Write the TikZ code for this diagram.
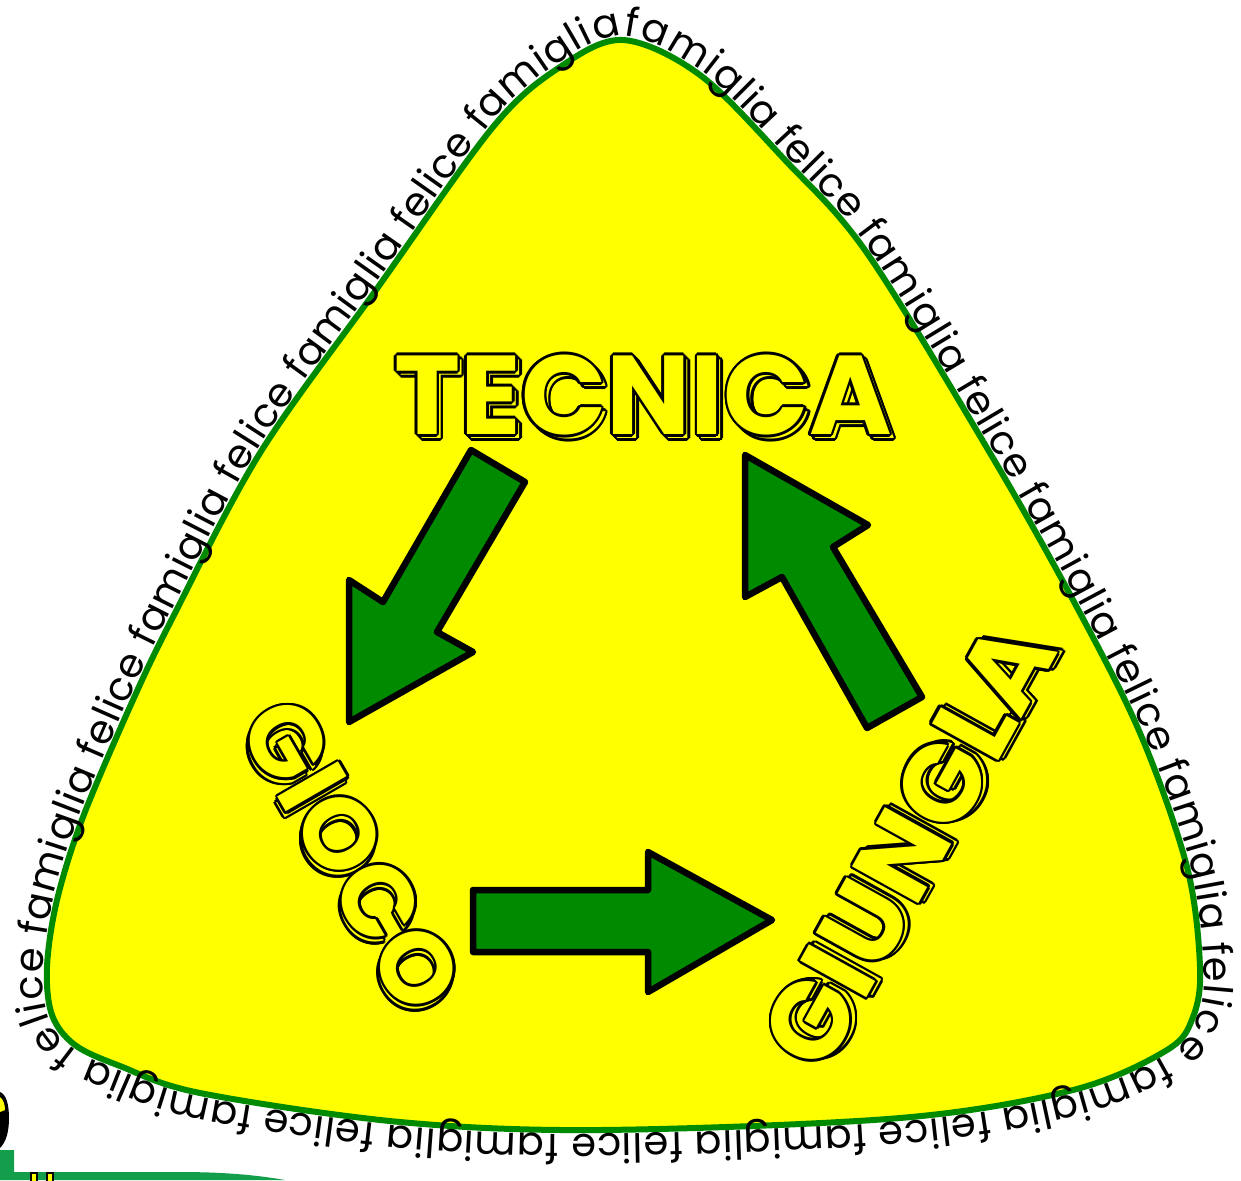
\documentclass[tikz,border=0pt]{standalone}
\usepackage{fontspec}
\usetikzlibrary{decorations.text}
\newfontfamily\famfont{Poppins}
\newfontfamily\bubblefont{Poppins}
\definecolor{ylw}{RGB}{255,255,0}
\definecolor{grn}{RGB}{0,138,0}
\definecolor{bandgrn}{RGB}{18,158,74}
\tikzset{
  trishape/.style={fill=ylw, draw=grn, line width=6pt},
  blockarrow/.style={fill=grn, draw=black, line width=6.5pt, line join=round},
  bubtxt/.style={inner sep=0pt, outer sep=0pt, font=\bubblefont\bfseries\fontsize{#1}{#1}\selectfont},
}
\newcommand{\bubbleword}[6]{%
  \begin{scope}[shift={(#2,#3)}, rotate=#4, transform shape]
    \foreach \a [count=\k] in {0,30,...,330}
      \node[bubtxt=#5, text=black] (#1-s\k) at ({4pt+2.6pt*cos(\a)},{-4pt+2.6pt*sin(\a)}) {#6};
    \node[bubtxt=#5, text=ylw] (#1-s) at (4pt,-4pt) {#6};
    \foreach \a [count=\k] in {0,30,...,330}
      \node[bubtxt=#5, text=black] (#1-o\k) at ({2.6pt*cos(\a)},{2.6pt*sin(\a)}) {#6};
    \node[bubtxt=#5, text=ylw] (#1) at (0,0) {#6};
  \end{scope}}
\newcommand{\tripoints}{(560,67) (623,40) (700,75) (785,160) (867,253) (990,453) (1073,600) (1140,733) (1187,867) (1200,967) (1193,1017) (1167,1050) (1073,1090) (900,1118) (600,1130) (400,1122) (200,1093) (120,1066) (75,1045) (52,1015) (47,967) (57,900) (83,817) (133,700) (173,617) (260,453) (376,290) (493,127)}
\begin{document}
\begin{tikzpicture}[x=1pt, y=-1pt]
\useasboundingbox (0,0) rectangle (1241,1180);
\fill[white] (0,0) rectangle (1241,1180);
% cropped pieces at the lower left edge
\fill[bandgrn] (0,1150) -- (14,1150) -- (14,1172) -- (180,1172) .. controls (230,1172) and (262,1176) .. (285,1180) -- (0,1180) -- cycle;
\draw[black, line width=2pt, fill=ylw] (31,1181) -- (31,1173) -- (37,1173) -- (37,1181);
\draw[black, line width=2pt, fill=ylw] (47,1181) -- (47,1173) -- (53,1173) -- (53,1181);
\fill[black] (0,1092) .. controls (6,1094) and (9,1104) .. (9,1118) .. controls (9,1132) and (6,1142) .. (0,1148) -- cycle;
\fill[ylw] (0,1097) .. controls (3,1099) and (5,1104) .. (5,1110) -- (0,1112) -- cycle;
% rounded triangle
\draw[trishape] plot[smooth cycle, tension=0.55] coordinates {\tripoints};
\path[decorate, decoration={text along path, text align={fit to path}, raise=4pt,
  text={|\famfont\fontsize{40pt}{40pt}\selectfont|famiglia felice famiglia felice famiglia felice famiglia felice famiglia felice famiglia felice famiglia felice famiglia felice famiglia felice famiglia felice famiglia felice famiglia}}]
  plot[smooth cycle, tension=0.55] coordinates {\tripoints};
% block arrows
\draw[blockarrow] (471,450) -- (525,482) -- (437,632) -- (473,652) -- (349,722) -- (349,580) -- (383,602) -- cycle;
\draw[blockarrow] (745,455) -- (868,525) -- (833,547) -- (922,697) -- (867,728) -- (782,577) -- (745,597) -- cycle;
\draw[blockarrow] (473,890) -- (648,890) -- (648,852) -- (772,920) -- (648,992) -- (648,952) -- (473,952) -- cycle;
% words
\bubbleword{tecnica}{643}{395}{0}{112pt}{TECNICA}
\bubbleword{gioco}{352}{855}{-60}{100pt}{GIOCO}
\bubbleword{giungla}{908}{845}{61}{108pt}{GIUNGLA}
\end{tikzpicture}
\end{document}
